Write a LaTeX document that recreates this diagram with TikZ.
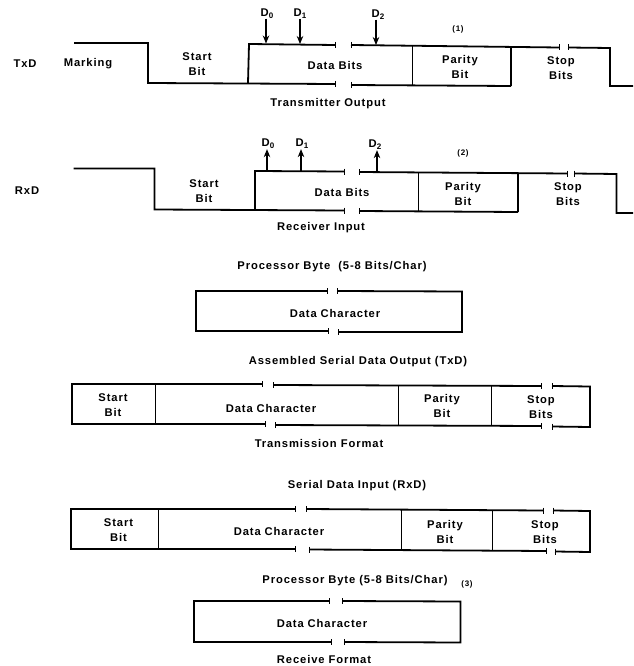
\documentclass[tikz,border=0pt]{standalone}
\usepackage{fontspec}
\setmainfont{Liberation Sans}[LetterSpace=8]
\usetikzlibrary{arrows.meta}
\tikzset{
  lbl/.style={inner sep=0pt,align=center,font=\fontsize{11.2}{15}\selectfont\bfseries},
  note/.style={inner sep=0pt,font=\fontsize{8}{9}\selectfont\bfseries},
  wave/.style={line width=1.8pt,line cap=butt,line join=miter},
  divider/.style={line width=1pt},
  brk/.style={line width=0.5pt},
  probe/.style={line width=1.1pt,-{Stealth[length=8pt,width=6.5pt]}},
}
\newcommand{\sbs}[1]{\raisebox{-2.2pt}{\fontsize{8}{9}\selectfont\bfseries #1}}
\newcommand{\brkmark}[2]{\draw[brk] (#1,#2-3) -- (#1,#2+3);}
\begin{document}
\begin{tikzpicture}[x=1pt,y=-1pt]
\useasboundingbox (0,0) rectangle (633,666);
\fill[white] (0,0) rectangle (633,666);

% TxD waveform
\coordinate (t0) at (266,43.5);
\coordinate (t1) at (300,44);
\coordinate (t2) at (376,45);
\draw[wave] (74,43) -- (148,43) -- (148,83) -- (335,84);
\brkmark{335}{84}
\brkmark{351}{85}
\draw[wave] (351,85) -- (511,86);
\draw[wave] (248,83) -- (249,44) -- (335,45);
\brkmark{335}{45}
\brkmark{351}{45}
\draw[wave] (351,45) -- (559,47.5);
\brkmark{559}{47.5}
\brkmark{568}{47.5}
\draw[wave] (568,47.5) -- (610,48) -- (610,86) -- (633,86);
\draw[wave] (511,47) -- (511,86);
\draw[divider] (412,46) -- (412,85);

\node[lbl] (txd) at (25,64) {TxD};
\node[lbl] (marking) at (88,63.5) {Marking};
\node[lbl] (tstart) at (197,64.5) {Start\\Bit};
\node[lbl] (tdata) at (335,65.5) {Data Bits};
\node[lbl] (tpar) at (460,67) {Parity\\Bit};
\node[lbl] (tstop) at (561,68) {Stop\\Bits};
\node[lbl] (tout) at (328,104) {Transmitter Output};
\node[note] (n1) at (458,29) {(1)};
\node[lbl] (d0) at (267,13.5) {D\sbs{0}};
\node[lbl] (d1) at (300,13.5) {D\sbs{1}};
\node[lbl] (d2) at (378,14.5) {D\sbs{2}};
\draw[probe] (d0.south -| t0) -- (t0);
\draw[probe] (d1.south -| t1) -- (t1);
\draw[probe] (d2.south -| t2) -- (t2);

% RxD waveform
\coordinate (r0) at (267,171);
\coordinate (r1) at (301,171);
\coordinate (r2) at (377,172);
\draw[wave] (73.5,168.5) -- (154.5,168.5) -- (154.5,209.5) -- (344,210.5);
\brkmark{344}{210.5}
\brkmark{359}{211}
\draw[wave] (359,211) -- (518,212);
\draw[wave] (255,210) -- (255,171) -- (344,171.5);
\brkmark{344}{171.5}
\brkmark{359}{172}
\draw[wave] (359,172) -- (567,173.5);
\brkmark{567}{173.5}
\brkmark{574}{173.5}
\draw[wave] (574,173.5) -- (616.5,174) -- (616.5,213) -- (633,213);
\draw[wave] (518,173) -- (518,212);
\draw[divider] (418,172) -- (418,211);

\node[lbl] (rxd) at (27,191) {RxD};
\node[lbl] (rstart) at (204,191) {Start\\Bit};
\node[lbl] (rdata) at (342,192) {Data Bits};
\node[lbl] (rpar) at (463,193.5) {Parity\\Bit};
\node[lbl] (rstop) at (568,194.5) {Stop\\Bits};
\node[lbl] (rin) at (321,227.5) {Receiver Input};
\node[note] (n2) at (463,153) {(2)};
\node[lbl] (rd0) at (268,144) {D\sbs{0}};
\node[lbl] (rd1) at (302,144) {D\sbs{1}};
\node[lbl] (rd2) at (375,145) {D\sbs{2}};
\draw[probe] (r0) -- (r0 |- rd0.south);
\draw[probe] (r1) -- (r1 |- rd1.south);
\draw[probe] (r2) -- (r2 |- rd2.south);

% Processor byte (transmit)
\node[lbl] (pb1) at (332,267) {Processor Byte~~(5-8 Bits/Char)};
\draw[wave] (327,291) -- (196,291) -- (196,331) -- (328,331);
\draw[wave] (337,291) -- (462,291.5) -- (462,332) -- (338,332);
\brkmark{327}{291}\brkmark{337}{291}
\brkmark{328}{331}\brkmark{338}{332}
\node[lbl] (dc1) at (335,313) {Data Character};

% Transmission format
\node[lbl] (asm) at (358,362) {Assembled Serial Data Output (TxD)};
\draw[wave] (262,384) -- (72,384) -- (72,424) -- (265,424);
\draw[wave] (273,385) -- (541,386);
\draw[wave] (275,425) -- (541,426);
\draw[wave] (552,386) -- (590,386.5) -- (590,427) -- (552,426.5);
\brkmark{262}{384}\brkmark{273}{385}
\brkmark{265}{424}\brkmark{275}{425}
\brkmark{541}{386}\brkmark{552}{386}
\brkmark{541}{426}\brkmark{552}{426.5}
\draw[divider] (155,384) -- (155,424);
\draw[divider] (398.5,385.5) -- (398.5,425.5);
\draw[divider] (491,386) -- (491,426);
\node[lbl] (s2) at (113,405.5) {Start\\Bit};
\node[lbl] (dc2) at (271,408) {Data Character};
\node[lbl] (p2) at (442,405.5) {Parity\\Bit};
\node[lbl] (st2) at (541,407) {Stop\\Bits};
\node[lbl] (tf) at (319,443) {Transmission Format};

% Receive format
\node[lbl] (sdi) at (357,486) {Serial Data Input (RxD)};
\draw[wave] (295,509) -- (71,509) -- (71,549) -- (295,549);
\draw[wave] (306.5,509) -- (543,510.5);
\draw[wave] (309,549.5) -- (546,551);
\draw[wave] (553,510.5) -- (590,511) -- (590,552) -- (555,551.5);
\brkmark{295}{509}\brkmark{306.5}{509}
\brkmark{295}{549}\brkmark{309}{549.5}
\brkmark{543}{510.5}\brkmark{553}{510.5}
\brkmark{546}{551}\brkmark{555}{551.5}
\draw[divider] (158.5,509) -- (158.5,549);
\draw[divider] (401,510) -- (401,550);
\draw[divider] (492,510.5) -- (492,550.5);
\node[lbl] (s3) at (118.5,530.5) {Start\\Bit};
\node[lbl] (dc3) at (279,531) {Data Character};
\node[lbl] (p3) at (445,531.5) {Parity\\Bit};
\node[lbl] (st3) at (545,532.5) {Stop\\Bits};

% Processor byte (receive)
\node[lbl] (pb2) at (355,581) {Processor Byte (5-8 Bits/Char)};
\node[note] (n3) at (467,584) {(3)};
\draw[wave] (329,601) -- (194,601) -- (194,642) -- (331,642);
\draw[wave] (342,601) -- (460.5,601.5) -- (460.5,642.5) -- (344,642);
\brkmark{329}{601}\brkmark{342}{601}
\brkmark{331}{642}\brkmark{344}{642}
\node[lbl] (dc4) at (322,623) {Data Character};
\node[lbl] (rf) at (324,659) {Receive Format};
\end{tikzpicture}
\end{document}
